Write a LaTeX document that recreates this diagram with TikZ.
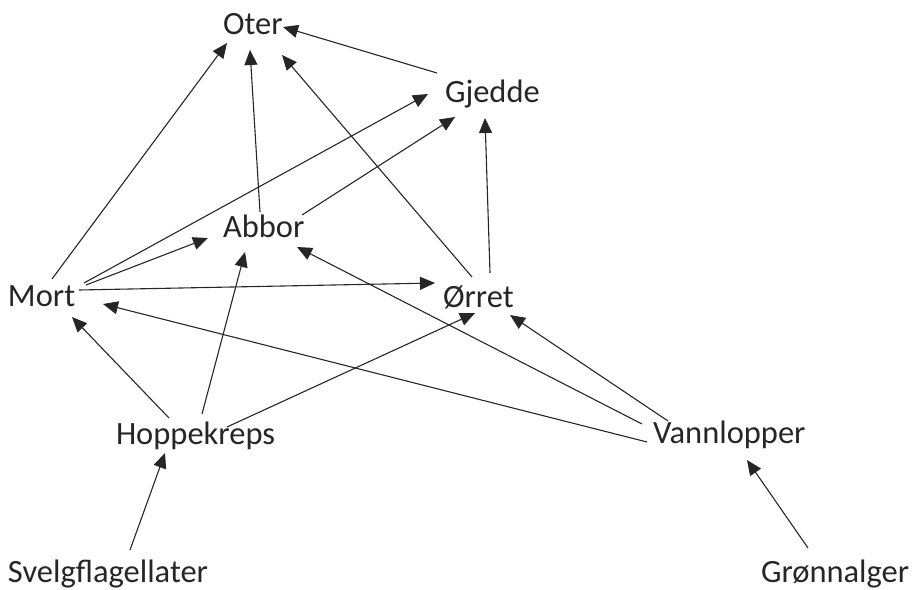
\documentclass[tikz,border=0pt]{standalone}
\usepackage{fontspec}
\setmainfont{Carlito}
\usetikzlibrary{arrows.meta}
\begin{document}
\begin{tikzpicture}[x=1pt,y=-1pt,
  lbl/.style={anchor=base west,inner sep=0pt,outer sep=0pt,text=black!85,font=\fontsize{32.5}{38}\selectfont},
  arr/.style={line width=1.1pt,draw=black!85,-{Triangle[length=15pt,width=13pt]}}]
\useasboundingbox (0,0) rectangle (912,589);
\node[lbl] (oter) at (223,34) {Oter};
\node[lbl] (gjedde) at (445,102) {Gjedde};
\node[lbl] (abbor) at (223,237) {Abbor};
\node[lbl] (mort) at (8,306) {Mort};
\node[lbl] (orret) at (443,307) {Ørret};
\node[lbl] (hopp) at (116,444) {Hoppekreps};
\node[lbl] (vann) at (653,443) {Vannlopper};
\node[lbl] (svelg) at (8,582) {Svelgflagellater};
\node[lbl] (gron) at (761,582) {Grønnalger};
% connectors
\draw[arr] ([shift={(-8,-29)}]gjedde.base west) -- ([shift={(60,-7)}]oter.base west);
\draw[arr] ([shift={(44,-27)}]mort.base west) -- ([shift={(4,9)}]oter.base west);
\draw[arr] ([shift={(37,-25)}]abbor.base west) -- ([shift={(27,16)}]oter.base west);
\draw[arr] ([shift={(29,-30)}]orret.base west) -- ([shift={(59,21)}]oter.base west);
\draw[arr] ([shift={(76,-23)}]mort.base west) -- ([shift={(-17,-8)}]gjedde.base west);
\draw[arr] ([shift={(79,-22)}]abbor.base west) -- ([shift={(10,15)}]gjedde.base west);
\draw[arr] ([shift={(47,-34)}]orret.base west) -- ([shift={(40,16)}]gjedde.base west);
\draw[arr] ([shift={(78,-21)}]mort.base west) -- ([shift={(-15,1)}]abbor.base west);
\draw[arr] ([shift={(71,-16)}]mort.base west) -- ([shift={(-8,-24)}]orret.base west);
\draw[arr] ([shift={(53,-26)}]hopp.base west) -- ([shift={(64,11)}]mort.base west);
\draw[arr] ([shift={(86,-30)}]hopp.base west) -- ([shift={(22,15)}]abbor.base west);
\draw[arr] ([shift={(111,-17)}]hopp.base west) -- ([shift={(32,6)}]orret.base west);
\draw[arr] ([shift={(-6,-1)}]vann.base west) -- ([shift={(95,-2)}]mort.base west);
\draw[arr] ([shift={(-11,-19)}]vann.base west) -- ([shift={(74,10)}]abbor.base west);
\draw[arr] ([shift={(15,-22)}]vann.base west) -- ([shift={(67,8)}]orret.base west);
\draw[arr] ([shift={(122,-32)}]svelg.base west) -- ([shift={(49,9)}]hopp.base west);
\draw[arr] ([shift={(47,-34)}]gron.base west) -- ([shift={(94,17)}]vann.base west);
\end{tikzpicture}
\end{document}
